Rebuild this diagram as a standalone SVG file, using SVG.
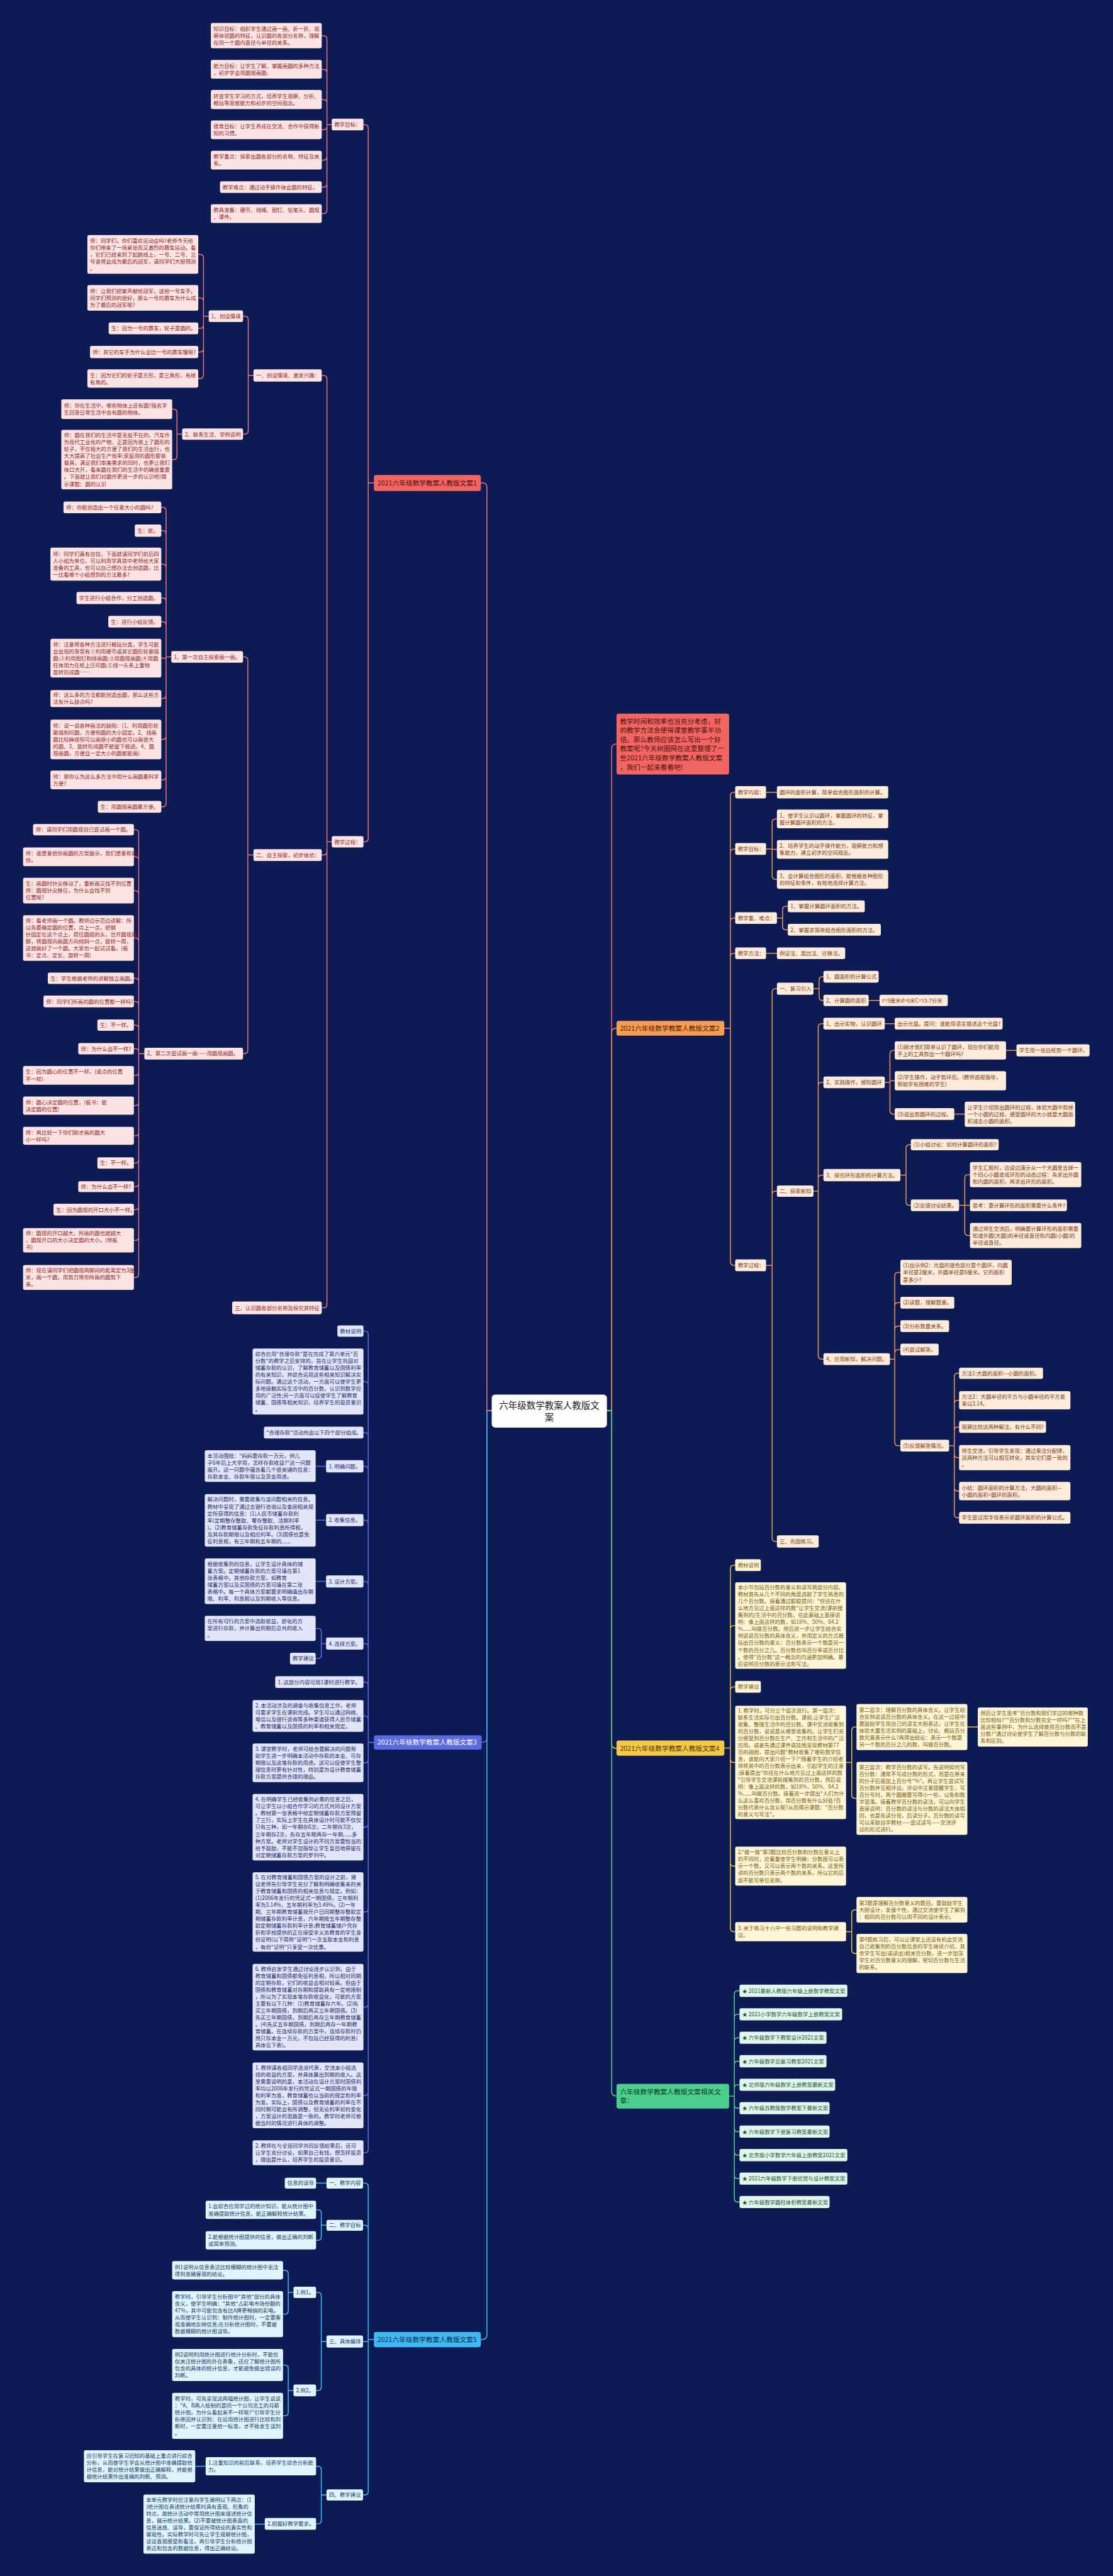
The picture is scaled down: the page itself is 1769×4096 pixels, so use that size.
<svg xmlns="http://www.w3.org/2000/svg" width="1769" height="4096" viewBox="0 0 1769 4096">
<style>
text{font-family:"Noto Sans CJK SC","Noto Sans",sans-serif;font-size:12.2px}
.r rect{fill:#fde4e4}.r text{fill:#8c1f24}
.o rect{fill:#fdebdc}.o text{fill:#7a3a12}
.b rect{fill:#e2e6f8}.b text{fill:#1c2a6c}
.y rect{fill:#fdf5d6}.y text{fill:#7a5a0c}
.c rect{fill:#dff4fc}.c text{fill:#123a66}
.g rect{fill:#e2f6ec}.g text{fill:#145538}
.cn path{fill:none;stroke-width:2.2;stroke-linecap:round}
.main text{font-size:15.5px}
</style>
<rect width="1769" height="4096" fill="#0d1b55"/>
<g transform="scale(0.6910156)">
<g class="cn" id="connectors">
<path stroke="#f26561" d="M1396 3246H1407V1722Q1407 1712 1417 1712H1418"/>
<path stroke="#f0924e" d="M1396 3246H1407V2376Q1407 2366 1417 2366H1418"/>
<path stroke="#e8bf3a" d="M1396 3246H1407V4013Q1407 4023 1417 4023H1418"/>
<path stroke="#4ccf8e" d="M1396 3246H1407V4813Q1407 4823 1417 4823H1418"/>
<path stroke="#5b6ce0" d="M1131 3246H1120V3999Q1120 4009 1110 4009H1108"/>
<path stroke="#42b6ee" d="M1131 3246H1120V5373Q1120 5383 1110 5383H1106"/>
<path stroke="#e8737a" d="M1131 3246H1120V1121Q1120 1111 1110 1111H1106"/>
<path stroke="#e8737a" d="M860 1111H847 M847 1111V295Q847 287 839 287H836 M847 1111V1929Q847 1937 839 1937H836
M763 287H752 M752 287V90Q752 82 744 82H740 M752 287V167.5Q752 159.5 744 159.5H740 M752 287V237Q752 229 744 229H740 M752 287V290.5Q752 298.5 744 298.5H740 M752 287V360.5Q752 368.5 744 368.5H740 M752 287V422.5Q752 430.5 744 430.5H740 M752 287V483.5Q752 491.5 744 491.5H740
M763 1937H752 M752 1937V872Q752 864 744 864H739 M752 1937V1959.5Q752 1967.5 744 1967.5H740 M752 1937V3001.5Q752 3009.5 744 3009.5H740
M583 864H571 M571 864V735.5Q571 727.5 563 727.5H559 M571 864V991Q571 999 563 999H559
M480 727.5H468 M468 727.5V593.5Q468 585.5 460 585.5H456 M468 727.5V693.5Q468 685.5 460 685.5H456 M468 727.5V747.5Q468 755.5 460 755.5H456 M468 727.5V802Q468 810 460 810H456 M468 727.5V863Q468 871 460 871H456
M419 999H407 M407 999V949.5Q407 941.5 399 941.5H396 M407 999V1049.5Q407 1057.5 399 1057.5H396
M583 1967.5H570 M570 1967.5V1519.5Q570 1511.5 562 1511.5H559 M570 1967.5V2416.5Q570 2424.5 562 2424.5H559
M394 1511.5H382 M382 1511.5V1175.5Q382 1167.5 374 1167.5H371 M382 1511.5V1229Q382 1221 374 1221H371 M382 1511.5V1306Q382 1298 374 1298H371 M382 1511.5V1384Q382 1376 374 1376H371 M382 1511.5V1438.5Q382 1430.5 374 1430.5H371 M382 1514.5H371 M382 1511.5V1599.5Q382 1607.5 374 1607.5H371 M382 1511.5V1693.5Q382 1701.5 374 1701.5H371 M382 1511.5V1786.5Q382 1794.5 374 1794.5H371 M382 1511.5V1848.5Q382 1856.5 374 1856.5H371
M332 2424.5H319 M319 2424.5V1917Q319 1909 311 1909H308 M319 2424.5V1979.5Q319 1971.5 311 1971.5H308 M319 2424.5V2057.5Q319 2049.5 311 2049.5H308 M319 2424.5V2166.5Q319 2158.5 311 2158.5H308 M319 2424.5V2259Q319 2251 311 2251H308 M319 2424.5V2312.5Q319 2304.5 311 2304.5H308 M319 2424.5V2367Q319 2359 311 2359H308 M319 2424.5V2421Q319 2413 311 2413H308 M319 2424.5V2466.5Q319 2474.5 311 2474.5H308 M319 2424.5V2536Q319 2544 311 2544H308 M319 2424.5V2605.5Q319 2613.5 311 2613.5H308 M319 2424.5V2668Q319 2676 311 2676H308 M319 2424.5V2722.5Q319 2730.5 311 2730.5H308 M319 2424.5V2775.5Q319 2783.5 311 2783.5H308 M319 2424.5V2846Q319 2854 311 2854H308 M319 2424.5V2931.5Q319 2939.5 311 2939.5H308"/>
<path stroke="#5b6ce0" d="M860 4009.5H847 M847 4009.5V3071Q847 3063 839 3063H836 M847 4009.5V3187Q847 3179 839 3179H836 M847 4009.5V3304.5Q847 3296.5 839 3296.5H836 M847 4009.5V3382Q847 3374 839 3374H836 M847 4009.5V3506Q847 3498 839 3498H836 M847 4009.5V3647Q847 3639 839 3639H836 M847 4009.5V3790Q847 3782 839 3782H836 M847 4009.5V3878.5Q847 3870.5 839 3870.5H836 M847 4009.5V3956.5Q847 3948.5 839 3948.5H836 M847 4009.5V4048.5Q847 4056.5 839 4056.5H836 M847 4009.5V4196.5Q847 4204.5 839 4204.5H836 M847 4009.5V4391.5Q847 4399.5 839 4399.5H836 M847 4009.5V4610.5Q847 4618.5 839 4618.5H836 M847 4009.5V4813.5Q847 4821.5 839 4821.5H836 M847 4009.5V4945.5Q847 4953.5 839 4953.5H836
M750 3374H726 M750 3498H726 M750 3639H726 M750 3782H739 M739 3782V3755Q739 3747 731 3747H726 M739 3782V3808.5Q739 3816.5 731 3816.5H726"/>
<path stroke="#42b6ee" d="M860 5383.5H847 M847 5383.5V5031.5Q847 5023.5 839 5023.5H835 M847 5383.5V5128.5Q847 5120.5 839 5120.5H835 M847 5388H835 M847 5383.5V5733Q847 5741 839 5741H835
M751 5023.5H727
M751 5120.5H739 M739 5120.5V5093Q739 5085 731 5085H727 M739 5120.5V5147Q739 5155 731 5155H727
M751 5388H739 M739 5388V5283Q739 5275 731 5275H727 M739 5388V5492.5Q739 5500.5 731 5500.5H727
M675 5275H663 M663 5275V5232Q663 5224 655 5224H651 M663 5275V5317Q663 5325 655 5325H651
M675 5500.5H663 M663 5500.5V5450Q663 5442 655 5442H651 M663 5500.5V5551Q663 5559 655 5559H651
M751 5741H739 M739 5741V5683Q739 5675 731 5675H727 M739 5741V5799.5Q739 5807.5 731 5807.5H727
M473 5675H449 M609 5808H586"/>
<path stroke="#f0924e" d="M1666 2366H1680 M1680 2366V1831Q1680 1823 1688 1823H1691 M1680 2366V1961.5Q1680 1953.5 1688 1953.5H1691 M1680 2366V2120.5Q1680 2112.5 1688 2112.5H1691 M1680 2366V2201.5Q1680 2193.5 1688 2193.5H1691 M1680 2366V2903.5Q1680 2911.5 1688 2911.5H1691
M1762 1823H1787
M1762 1953.5H1776 M1776 1953.5V1892.5Q1776 1884.5 1784 1884.5H1787 M1776 1954.5H1787 M1776 1953.5V2015.5Q1776 2023.5 1784 2023.5H1787
M1787 2112.5H1800 M1800 2112.5V2093.5Q1800 2085.5 1808 2085.5H1812 M1800 2112.5V2131.5Q1800 2139.5 1808 2139.5H1812
M1762 2193.5H1787
M1762 2911.5H1776 M1776 2911.5V2283Q1776 2275 1784 2275H1787 M1776 2911.5V2749Q1776 2741 1784 2741H1787 M1776 2911.5V3539Q1776 3547 1784 3547H1787
M1871 2275H1884 M1884 2275V2255.5Q1884 2247.5 1892 2247.5H1894 M1884 2275V2294Q1884 2302 1892 2302H1894
M1998 2302H2023
M1871 2741H1882 M1882 2741V2363.5Q1882 2355.5 1890 2355.5H1894 M1882 2741V2498.5Q1882 2490.5 1890 2490.5H1894 M1882 2741V2712Q1882 2704 1890 2704H1894 M1882 2741V3119.5Q1882 3127.5 1890 3127.5H1894
M2035 2355.5H2058
M2035 2490.5H2047 M2047 2490.5V2425Q2047 2417 2055 2417H2058 M2047 2487H2058 M2047 2490.5V2555.5Q2047 2563.5 2055 2563.5H2058
M2314 2417H2338 M2195 2563.5H2219
M2071 2704H2084 M2084 2704V2642Q2084 2634 2092 2634H2095 M2084 2704V2765.5Q2084 2773.5 2092 2773.5H2095
M2206 2773.5H2231 M2219 2773.5V2711Q2219 2703 2227 2703H2231 M2219 2773.5V2835Q2219 2843 2227 2843H2231
M2047 3127.5H2058 M2058 3127.5V2936Q2058 2928 2066 2928H2071 M2058 3127.5V3005.5Q2058 2997.5 2066 2997.5H2071 M2058 3127.5V3059.5Q2058 3051.5 2066 3051.5H2071 M2058 3127.5V3113.5Q2058 3105.5 2066 3105.5H2071 M2058 3127.5V3318.5Q2058 3326.5 2066 3326.5H2071
M2183 3326.5H2195 M2195 3326.5V3168Q2195 3160 2203 3160H2206 M2195 3326.5V3230Q2195 3222 2203 3222H2206 M2195 3326.5V3291.5Q2195 3283.5 2203 3283.5H2206 M2195 3326.5V3346Q2195 3354 2203 3354H2206 M2195 3326.5V3423Q2195 3431 2203 3431H2206 M2195 3326.5V3484.5Q2195 3492.5 2203 3492.5H2206"/>
<path stroke="#e8bf3a" d="M1666 4022.5H1680 M1680 4022.5V3609.5Q1680 3601.5 1688 3601.5H1691 M1680 4022.5V3748.5Q1680 3740.5 1688 3740.5H1691 M1680 4022.5V3889.5Q1680 3881.5 1688 3881.5H1691 M1680 4022.5V4047.5Q1680 4055.5 1688 4055.5H1691 M1680 4022.5V4286Q1680 4294 1688 4294H1691 M1680 4022.5V4437Q1680 4445 1688 4445H1691
M1946 4055.5H1959 M1959 4055.5V3982Q1959 3974 1967 3974H1970 M1959 4055.5V4130Q1959 4138 1967 4138H1970
M2225 3974H2249
M1946 4445H1959 M1959 4445V4402.5Q1959 4394.5 1967 4394.5H1970 M1959 4445V4487Q1959 4495 1967 4495H1970"/>
<path stroke="#4ccf8e" d="M1677 4823.5H1689 M1689 4823.5V4589Q1689 4581 1697 4581H1701 M1689 4823.5V4643Q1689 4635 1697 4635H1701 M1689 4823.5V4697Q1689 4689 1697 4689H1701 M1689 4823.5V4751Q1689 4743 1697 4743H1701 M1689 4823.5V4805Q1689 4797 1697 4797H1701 M1689 4823.5V4843Q1689 4851 1697 4851H1701 M1689 4823.5V4897Q1689 4905 1697 4905H1701 M1689 4823.5V4951Q1689 4959 1697 4959H1701 M1689 4823.5V5005Q1689 5013 1697 5013H1701 M1689 4823.5V5059Q1689 5067 1697 5067H1701"/>
</g>

<g id="root"><rect x="1131" y="3209" width="265" height="76" rx="8" fill="#ffffff"/><text x="1263.5" y="3242" text-anchor="middle" style="font-size:21px;fill:#222">六年级数学教案人教版文<tspan x="1263.5" dy="27">案</tspan></text></g>

<g id="intro" class="main"><rect x="1418" y="1642" width="259" height="140" rx="5" fill="#f26561"/><text x="1426" y="1665" style="fill:#4a1212">教学时间和效率也当充分考虑，好<tspan x="1426" dy="21.2">的教学方法会使得课堂教学事半功</tspan><tspan x="1426" dy="21.2">倍。那么教师应该怎么写出一个好</tspan><tspan x="1426" dy="21.2">教案呢?今天树图网在这里整理了一</tspan><tspan x="1426" dy="21.2">些2021六年级数学教案人教版文案</tspan><tspan x="1426" dy="21.2">，我们一起来看看吧!</tspan></text></g>
<g id="b1" class="main"><rect x="860" y="1093" width="246" height="37" rx="5" fill="#f26561"/><text x="868" y="1117" style="fill:#4a1212">2021六年级数学教案人教版文案1</text></g>
<g id="b2" class="main"><rect x="1418" y="2349" width="248" height="34" rx="5" fill="#f89c50"/><text x="1426" y="2372" style="fill:#4a2306">2021六年级数学教案人教版文案2</text></g>
<g id="b3" class="main"><rect x="860" y="3993" width="248" height="33" rx="5" fill="#5a6bdf"/><text x="868" y="4015" style="fill:#ffffff">2021六年级数学教案人教版文案3</text></g>
<g id="b4" class="main"><rect x="1418" y="4005" width="248" height="35" rx="5" fill="#f7c845"/><text x="1426" y="4028.5" style="fill:#4a3a06">2021六年级数学教案人教版文案4</text></g>
<g id="b5" class="main"><rect x="860" y="5366" width="246" height="35" rx="5" fill="#40b9f2"/><text x="868" y="5389" style="fill:#0a2a4a">2021六年级数学教案人教版文案5</text></g>
<g id="b6" class="main"><rect x="1418" y="4795" width="259" height="57" rx="5" fill="#4ccf8e"/><text x="1426" y="4819.5" style="fill:#0a3a22">六年级数学教案人教版文案相关文<tspan x="1426" dy="20">章：</tspan></text></g>

<!-- branch 1 -->
<g class="r">
<g id="r-mb"><rect x="763" y="273" width="73" height="27" rx="4"/><text x="769" y="291">教学目标：</text></g>
<g id="r-t1"><rect x="485" y="53" width="255" height="58" rx="4"/><text x="491" y="70.6">知识目标：组织学生通过画一画、折一折、观<tspan x="491" dy="16">察体验圆的特征，认识圆的各部分名称，理解</tspan><tspan x="491" dy="16">在同一个圆内直径与半径的关系。</tspan></text></g>
<g id="r-t2"><rect x="485" y="138" width="255" height="43" rx="4"/><text x="491" y="156">能力目标：让学生了解、掌握画圆的多种方法<tspan x="491" dy="16">，初步学会用圆规画圆;</tspan></text></g>
<g id="r-t3"><rect x="485" y="207" width="255" height="44" rx="4"/><text x="491" y="225.6">转变学生学习的方式，培养学生观察、分析、<tspan x="491" dy="16">概括等思维能力和初步的空间观念。</tspan></text></g>
<g id="r-t4"><rect x="485" y="277" width="255" height="43" rx="4"/><text x="491" y="295">德育目标：让学生养成在交流、合作中获得新<tspan x="491" dy="16">知的习惯。</tspan></text></g>
<g id="r-t5"><rect x="485" y="347" width="255" height="43" rx="4"/><text x="491" y="365">教学重点：探索出圆各部分的名称、特征及关<tspan x="491" dy="16">系。</tspan></text></g>
<g id="r-t6"><rect x="506" y="417" width="234" height="27" rx="4"/><text x="512" y="435">教学难点：通过动手操作体会圆的特征。</text></g>
<g id="r-t7"><rect x="485" y="470" width="255" height="43" rx="4"/><text x="491" y="488">教具准备：硬币、线绳、图钉、铅笔头、圆规<tspan x="491" dy="16">、课件。</tspan></text></g>
<g id="r-gc"><rect x="763" y="1924" width="73" height="26" rx="4"/><text x="769" y="1941.6">教学过程：</text></g>
<g id="r-s1"><rect x="583" y="850" width="157" height="28" rx="4"/><text x="589" y="868.6">一、创设情境、激发兴趣：</text></g>
<g id="r-s11"><rect x="480" y="714" width="79" height="27" rx="4"/><text x="486" y="732">1、创设情境</text></g>
<g id="r-a1"><rect x="201" y="541" width="255" height="89" rx="4"/><text x="207" y="558">师：同学们，你们喜欢运动会吗?老师今天给<tspan x="207" dy="16">你们带来了一场紧张而又激烈的赛车运动。看</tspan><tspan x="207" dy="16">，它们已经来到了起跑线上，一号、二号、三</tspan><tspan x="207" dy="16">号谁将会成为最后的冠军，请同学们大胆预测</tspan><tspan x="207" dy="16">。</tspan></text></g>
<g id="r-a2"><rect x="201" y="656" width="255" height="59" rx="4"/><text x="207" y="674">师：让我们把掌声献给冠军，送给一号车手。<tspan x="207" dy="16">同学们预测的很好，那么一号的赛车为什么成</tspan><tspan x="207" dy="16">为了最后的冠军呢?</tspan></text></g>
<g id="r-a3"><rect x="250" y="742" width="206" height="27" rx="4"/><text x="256" y="760">生：因为一号的赛车，轮子是圆的。</text></g>
<g id="r-a4"><rect x="207" y="796" width="249" height="28" rx="4"/><text x="213" y="814.6">师：其它的车手为什么会比一号的赛车慢呢?</text></g>
<g id="r-a5"><rect x="201" y="850" width="255" height="42" rx="4"/><text x="207" y="867.6">生：因为它们的轮子是方形，是三角形，有棱<tspan x="207" dy="16">有角的。</tspan></text></g>
<g id="r-s12"><rect x="419" y="986" width="140" height="26" rx="4"/><text x="425" y="1003.6">2、联系生活、举例说明</text></g>
<g id="r-f1"><rect x="141" y="919" width="255" height="45" rx="4"/><text x="147" y="938">师：你在生活中，哪些物体上还有圆?指名学<tspan x="147" dy="16">生回答日常生活中含有圆的物体。</tspan></text></g>
<g id="r-f2"><rect x="141" y="989" width="255" height="137" rx="4"/><text x="147" y="1006">师：圆在我们的生活中是无处不在的，汽车作<tspan x="147" dy="16">为现代工业化的产物，正是因为装上了圆形的</tspan><tspan x="147" dy="16">轮子，不仅极大的方便了我们的生活出行，也</tspan><tspan x="147" dy="16">大大提高了社会生产效率;家庭用的圆形套装</tspan><tspan x="147" dy="16">餐具，满足我们审美需求的同时，也更让我们</tspan><tspan x="147" dy="16">味口大开，看来圆在我们的生活中的确很重要</tspan><tspan x="147" dy="16">。下面就让我们对圆作更进一步的认识吧!揭</tspan><tspan x="147" dy="16">示课题：圆的认识</tspan></text></g>
<g id="r-s2"><rect x="583" y="1954" width="157" height="27" rx="4"/><text x="589" y="1972">二、自主探索，初步体验：</text></g>
<g id="r-s21"><rect x="394" y="1498" width="165" height="27" rx="4"/><text x="400" y="1516">1、第一次自主探索画一画。</text></g>
<g id="r-h1"><rect x="146" y="1154" width="225" height="27" rx="4"/><text x="152" y="1172">师：你能创造出一个任意大小的圆吗?</text></g>
<g id="r-h2"><rect x="310" y="1207" width="61" height="28" rx="4"/><text x="316" y="1225.6">生：能。</text></g>
<g id="r-h3"><rect x="116" y="1260" width="255" height="76" rx="4"/><text x="122" y="1278.6">师：同学们真有自信，下面就请同学们前后四<tspan x="122" dy="16">人小组为单位，可以利用学具袋中老师给大家</tspan><tspan x="122" dy="16">准备的工具，也可以自己想办法去创造圆，比</tspan><tspan x="122" dy="16">一比看哪个小组想到的方法最多?</tspan></text></g>
<g id="r-h4"><rect x="176" y="1362" width="195" height="28" rx="4"/><text x="182" y="1380.6">学生进行小组合作，分工创造圆。</text></g>
<g id="r-h5"><rect x="249" y="1417" width="122" height="27" rx="4"/><text x="255" y="1435">生：进行小组反馈。</text></g>
<g id="r-h6"><rect x="116" y="1470" width="255" height="89" rx="4"/><text x="122" y="1487">师：注意将各种方法进行概括分类，学生可能<tspan x="122" dy="16">会出现的答案有①利用硬币或其它圆形轮廓描</tspan><tspan x="122" dy="16">圆;②利用图钉和线画圆;③用圆规画圆;④用圆</tspan><tspan x="122" dy="16">柱体用力在纸上压印圆;⑤线一头系上重物</tspan><tspan x="122" dy="16">旋转形成圆……</tspan></text></g>
<g id="r-h7"><rect x="116" y="1588" width="255" height="39" rx="4"/><text x="122" y="1604">师：这么多的方法都能创造出圆，那么这些方<tspan x="122" dy="16">法有什么缺点吗?</tspan></text></g>
<g id="r-h8"><rect x="116" y="1656" width="255" height="91" rx="4"/><text x="122" y="1674">师：说一说各种画法的缺陷：(1、利用圆形轮<tspan x="122" dy="16">廓描和印圆，方便但圆的大小固定。2、线画</tspan><tspan x="122" dy="16">圆比较麻烦但可以画很小的圆也可以画很大</tspan><tspan x="122" dy="16">的圆、3、旋转形成圆不能留下痕迹。4、圆</tspan><tspan x="122" dy="16">规画圆，方便且一定大小的圆都能画)</tspan></text></g>
<g id="r-h9"><rect x="116" y="1773" width="255" height="43" rx="4"/><text x="122" y="1791">师：那你认为这么多方法中用什么画圆最科学<tspan x="122" dy="16">方便?</tspan></text></g>
<g id="r-h10"><rect x="225" y="1843" width="146" height="27" rx="4"/><text x="231" y="1861">生：用圆规画圆最方便。</text></g>
<g id="r-s22"><rect x="332" y="2411" width="227" height="27" rx="4"/><text x="338" y="2429">2、第二次尝试画一画-----用圆规画圆。</text></g>
<g id="r-k1"><rect x="76" y="1896" width="232" height="26" rx="4"/><text x="82" y="1913.6">师：请同学们用圆规自已尝试画一个圆。</text></g>
<g id="r-k2"><rect x="53" y="1950" width="255" height="43" rx="4"/><text x="59" y="1968">师：谁愿意把你画圆的方案展示，我们愿意帮助<tspan x="59" dy="16">你。</tspan></text></g>
<g id="r-k3"><rect x="53" y="2020" width="255" height="59" rx="4"/><text x="59" y="2038">生：画圆时针尖移动了，重新画又找不到位置<tspan x="59" dy="16">师：圆规针尖移位，为什么会找不到</tspan><tspan x="59" dy="16">位置呢?</tspan></text></g>
<g id="r-k4"><rect x="53" y="2106" width="255" height="105" rx="4"/><text x="59" y="2123">师：看老师画一个圆。教师边示范边讲解：所<tspan x="59" dy="16">以先要确定圆的位置，点上一点，把钢</tspan><tspan x="59" dy="16">针固定在这个点上，捏住圆规的头，岔开圆规两</tspan><tspan x="59" dy="16">脚，将圆规向画圆方向倾斜一点，旋转一周，</tspan><tspan x="59" dy="16">这就画好了一个圆。大家也一起试试看。(板</tspan><tspan x="59" dy="16">书：定点、定长、旋转一周)</tspan></text></g>
<g id="r-k5"><rect x="110" y="2238" width="198" height="26" rx="4"/><text x="116" y="2255.6">生：学生根据老师的讲解独立画圆。</text></g>
<g id="r-k6"><rect x="100" y="2291" width="208" height="27" rx="4"/><text x="106" y="2309">师：同学们所画的圆的位置都一样吗?</text></g>
<g id="r-k7"><rect x="224" y="2346" width="84" height="26" rx="4"/><text x="230" y="2363.6">生：不一样。</text></g>
<g id="r-k8"><rect x="180" y="2400" width="128" height="26" rx="4"/><text x="186" y="2417.6">师：为什么会不一样?</text></g>
<g id="r-k9"><rect x="53" y="2453" width="255" height="43" rx="4"/><text x="59" y="2471">生：因为圆心的位置不一样，(或点的位置<tspan x="59" dy="16">不一样)</tspan></text></g>
<g id="r-k10"><rect x="53" y="2523" width="255" height="42" rx="4"/><text x="59" y="2540.6">师：圆心决定圆的位置，(板书：能<tspan x="59" dy="16">决定圆的位置)</tspan></text></g>
<g id="r-k11"><rect x="53" y="2593" width="255" height="41" rx="4"/><text x="59" y="2610">师：再比较一下你们刚才画的圆大<tspan x="59" dy="16">小一样吗?</tspan></text></g>
<g id="r-k12"><rect x="224" y="2663" width="84" height="26" rx="4"/><text x="230" y="2680.6">生：不一样。</text></g>
<g id="r-k13"><rect x="180" y="2718" width="128" height="25" rx="4"/><text x="186" y="2735">师：为什么会不一样?</text></g>
<g id="r-k14"><rect x="123" y="2770" width="185" height="27" rx="4"/><text x="129" y="2788">生：因为圆规的开口大小不一样。</text></g>
<g id="r-k15"><rect x="53" y="2826" width="255" height="56" rx="4"/><text x="59" y="2842.6">师：圆规的开口越大，所画的圆也就越大<tspan x="59" dy="16">，圆规开口的大小决定圆的大小。(师板</tspan><tspan x="59" dy="16">书)</tspan></text></g>
<g id="r-k16"><rect x="53" y="2911" width="255" height="57" rx="4"/><text x="59" y="2928">师：现在请同学们把圆规两脚间的距离定为3厘<tspan x="59" dy="16">米，画一个圆，用剪刀将你所画的圆剪下</tspan><tspan x="59" dy="16">来。</tspan></text></g>
<g id="r-s3"><rect x="534" y="2995" width="206" height="29" rx="4"/><text x="540" y="3014">三、认识圆各部分名称及探究其特征</text></g>
</g>

<!-- branch 3 -->
<g class="b">
<g id="b-1"><rect x="776" y="3050" width="60" height="26" rx="4"/><text x="782" y="3067.6">教材说明</text></g>
<g id="b-2"><rect x="581" y="3103" width="255" height="152" rx="4"/><text x="587" y="3119.6">综合应用"合理存款"是在完成了第六单元"百<tspan x="587" dy="16">分数"的教学之后安排的，旨在让学生巩固对</tspan><tspan x="587" dy="16">储蓄存款的认识，了解教育储蓄以及国债利率</tspan><tspan x="587" dy="16">的有关知识，并综合运用这些相关知识解决实</tspan><tspan x="587" dy="16">际问题。通过这个活动，一方面可以使学生更</tspan><tspan x="587" dy="16">多地接触实际生活中的百分数，认识到数学应</tspan><tspan x="587" dy="16">用的广泛性;另一方面可以促使学生了解教育</tspan><tspan x="587" dy="16">储蓄、国债等相关知识，培养学生的投资意识</tspan><tspan x="587" dy="16">。</tspan></text></g>
<g id="b-3"><rect x="607" y="3283" width="229" height="27" rx="4"/><text x="613" y="3301">"合理存款"活动共由以下四个部分组成。</text></g>
<g id="b-4"><rect x="750" y="3360" width="86" height="28" rx="4"/><text x="756" y="3378.6">1. 明确问题。</text></g>
<g id="b-4a"><rect x="471" y="3337" width="255" height="73" rx="4"/><text x="477" y="3354">本活动围绕："妈妈要存款一万元，供儿<tspan x="477" dy="16">子6年后上大学用，怎样存款收益?"这一问题</tspan><tspan x="477" dy="16">展开。这一问题中蕴含着几个很关键的信息：</tspan><tspan x="477" dy="16">存款本金、存款年限以及资金用途。</tspan></text></g>
<g id="b-5"><rect x="750" y="3484" width="86" height="28" rx="4"/><text x="756" y="3502.6">2. 收集信息。</text></g>
<g id="b-5a"><rect x="471" y="3438" width="255" height="121" rx="4"/><text x="477" y="3455">解决问题时，需要收集与该问题相关的信息。<tspan x="477" dy="16">教材中呈现了通过去银行咨询以及查阅相关规</tspan><tspan x="477" dy="16">定所获得的信息：(1)人民币储蓄存款利</tspan><tspan x="477" dy="16">率(定期整存整取、零存整取、活期利率</tspan><tspan x="477" dy="16">)。(2)教育储蓄存款免征存款利息所得税，</tspan><tspan x="477" dy="16">及其存款期限以及相应利率。(3)国债也是免</tspan><tspan x="477" dy="16">征利息税，有三年期和五年期的......</tspan></text></g>
<g id="b-6"><rect x="750" y="3625" width="86" height="28" rx="4"/><text x="756" y="3643.6">3. 设计方案。</text></g>
<g id="b-6a"><rect x="471" y="3586" width="255" height="105" rx="4"/><text x="477" y="3603">根据收集到的信息，让学生设计具体的储<tspan x="477" dy="16">蓄方案。定期储蓄存款的方案可填在第1</tspan><tspan x="477" dy="16">张表格中。其他存款方案，如教育</tspan><tspan x="477" dy="16">储蓄方案以及买国债的方案可填在第二张</tspan><tspan x="477" dy="16">表格中。每一个具体方案都要求明确填出存期</tspan><tspan x="477" dy="16">限、利率、利息税以及到期收入等信息。</tspan></text></g>
<g id="b-7"><rect x="750" y="3768" width="86" height="28" rx="4"/><text x="756" y="3786.6">4. 选择方案。</text></g>
<g id="b-7a"><rect x="471" y="3718" width="255" height="58" rx="4"/><text x="477" y="3735.6">在所有可行的方案中选取收益，即化的方<tspan x="477" dy="16">案进行存款，并计算出到期后总共的收入</tspan><tspan x="477" dy="16">。</tspan></text></g>
<g id="b-7b"><rect x="667" y="3803" width="59" height="27" rx="4"/><text x="673" y="3821">教学建议</text></g>
<g id="b-8"><rect x="633" y="3857" width="203" height="27" rx="4"/><text x="639" y="3875">1. 这部分内容可用1课时进行教学。</text></g>
<g id="b-9"><rect x="581" y="3912" width="255" height="73" rx="4"/><text x="587" y="3929">2. 本活动涉及的调查与收集信息工作，老师<tspan x="587" dy="16">可要求学生在课前完成。学生可以通过网络、</tspan><tspan x="587" dy="16">电话以及银行咨询等多种渠道获得人民币储蓄</tspan><tspan x="587" dy="16">、教育储蓄以及国债的利率和相关规定。</tspan></text></g>
<g id="b-10"><rect x="581" y="4012" width="255" height="89" rx="4"/><text x="587" y="4029">3. 课堂教学时，老师可结合要解决的问题帮<tspan x="587" dy="16">助学生进一步明确本活动中存款的本金、可存</tspan><tspan x="587" dy="16">期限以及这笔存款的用途。这可以促使学生整</tspan><tspan x="587" dy="16">理信息时更有针对性，特别是为设计教育储蓄</tspan><tspan x="587" dy="16">存款方案提供合理的理由。</tspan></text></g>
<g id="b-11"><rect x="581" y="4128" width="255" height="153" rx="4"/><text x="587" y="4145">4. 在明确学生已经收集到必需的信息之后，<tspan x="587" dy="16">可让学生以小组合作学习的方式共同设计方案</tspan><tspan x="587" dy="16">。教材第一张表格中给定期储蓄存款方案预留</tspan><tspan x="587" dy="16">了三行，实际上学生在具体设计时可能不仅仅</tspan><tspan x="587" dy="16">只有三种，如一年期存6次，二年期存3次，</tspan><tspan x="587" dy="16">三年期存2次，先存五年期再存一年期......多</tspan><tspan x="587" dy="16">种方案。老师对学生设计的不同方案要恰当的</tspan><tspan x="587" dy="16">给予鼓励，不能不加指导让学生盲目地停留在</tspan><tspan x="587" dy="16">对定期储蓄存款方案的罗列中。</tspan></text></g>
<g id="b-12"><rect x="581" y="4308" width="255" height="183" rx="4"/><text x="587" y="4324">5. 在对教育储蓄和国债方案的设计之前，建<tspan x="587" dy="16">议老师先引导学生充分了解和明确收集来的关</tspan><tspan x="587" dy="16">于教育储蓄和国债的相关信息与规定。例如：</tspan><tspan x="587" dy="16">(1)2006年发行的凭证式一期国债，三年期利</tspan><tspan x="587" dy="16">率为3.14%，五年期利率为3.49%。(2)一年</tspan><tspan x="587" dy="16">期、三年期教育储蓄按开户日同期整存整取定</tspan><tspan x="587" dy="16">期储蓄存款利率计息，六年期按五年期整存整</tspan><tspan x="587" dy="16">取定期储蓄存款利率计息;教育储蓄储户凭存</tspan><tspan x="587" dy="16">折和学校提供的正在接受非义务教育的学生身</tspan><tspan x="587" dy="16">份证明(以下简称"证明")一次支取本金和利息</tspan><tspan x="587" dy="16">，每份"证明"只享受一次优惠。</tspan></text></g>
<g id="b-13"><rect x="581" y="4519" width="255" height="199" rx="4"/><text x="587" y="4535">6. 教师启发学生通过讨论逐步认识到，由于<tspan x="587" dy="16">教育储蓄和国债都免征利息税，所以相对同期</tspan><tspan x="587" dy="16">的定期存款，它们的收益会相对较高。但由于</tspan><tspan x="587" dy="16">国债和教育储蓄对存期和提取具有一定地限制</tspan><tspan x="587" dy="16">，所以为了实现本笔存款收益化，可能的方案</tspan><tspan x="587" dy="16">主要有以下几种：(1)教育储蓄存六年。(2)先</tspan><tspan x="587" dy="16">买三年期国债，到期后再买三年期国债。(3)</tspan><tspan x="587" dy="16">先买三年期国债，到期后再存三年期教育储蓄</tspan><tspan x="587" dy="16">。(4)先买五年期国债，到期后再存一年期教</tspan><tspan x="587" dy="16">育储蓄。在连续存款的方案中，连续存款时仍</tspan><tspan x="587" dy="16">然只存本金一万元，不包括已经获得的利息(</tspan><tspan x="587" dy="16">具体见下表)。</tspan></text></g>
<g id="b-14"><rect x="581" y="4746" width="255" height="151" rx="4"/><text x="587" y="4762">1. 教师请各组同学选派代表，交流本小组选<tspan x="587" dy="16">择的收益的方案，并具体算出到期的收入。这</tspan><tspan x="587" dy="16">里需要说明的是，本活动在设计方案时国债利</tspan><tspan x="587" dy="16">率均以2006年发行的凭证式一期国债的年限</tspan><tspan x="587" dy="16">和利率为准，教育储蓄也以当前的规定和利率</tspan><tspan x="587" dy="16">为准。实际上，国债以及教育储蓄的利率在不</tspan><tspan x="587" dy="16">同时期可能会有所调整，但无论利率如何变化</tspan><tspan x="587" dy="16">，方案设计的思路是一致的。教学时老师可根</tspan><tspan x="587" dy="16">据当时的情况进行具体的调整。</tspan></text></g>
<g id="b-15"><rect x="581" y="4925" width="255" height="57" rx="4"/><text x="587" y="4942">2. 教师在与全班同学共同反馈结果后，还可<tspan x="587" dy="16">让学生充分讨论，如果自己有钱，想怎样投资</tspan><tspan x="587" dy="16">，理由是什么，培养学生的投资意识。</tspan></text></g>
</g>

<!-- branch 5 -->
<g class="c">
<g id="c-1"><rect x="751" y="5011" width="84" height="25" rx="4"/><text x="757" y="5028">一、教学内容</text></g>
<g id="c-1a"><rect x="655" y="5011" width="72" height="25" rx="4"/><text x="661" y="5028">信息的误导</text></g>
<g id="c-2"><rect x="751" y="5108" width="84" height="25" rx="4"/><text x="757" y="5125">二、教学目标</text></g>
<g id="c-2a"><rect x="473" y="5064" width="254" height="42" rx="4"/><text x="479" y="5081.6">1.会综合应用学过的统计知识，能从统计图中<tspan x="479" dy="16">准确提取统计信息，能正确解释统计结果。</tspan></text></g>
<g id="c-2b"><rect x="473" y="5134" width="254" height="42" rx="4"/><text x="479" y="5151.6">2.能根据统计图提供的信息，做出正确的判断<tspan x="479" dy="16">或简单预测。</tspan></text></g>
<g id="c-3"><rect x="751" y="5374" width="84" height="28" rx="4"/><text x="757" y="5392.6">三、具体编排</text></g>
<g id="c-31"><rect x="675" y="5262" width="52" height="26" rx="4"/><text x="681" y="5279.6">1.例1。</text></g>
<g id="c-31a"><rect x="396" y="5203" width="255" height="42" rx="4"/><text x="402" y="5220.6">例1说明从信息表达比较模糊的统计图中无法<tspan x="402" dy="16">得到准确客观的结论。</tspan></text></g>
<g id="c-31b"><rect x="396" y="5272" width="255" height="106" rx="4"/><text x="402" y="5289.6">教学时，引导学生分析图中"其他"部分的具体<tspan x="402" dy="16">含义，使学生明确："其他"占彩电市场份额的</tspan><tspan x="402" dy="16">47%，其中可能包含有比A牌更畅销的彩电。</tspan><tspan x="402" dy="16">从而使学生认识到：制作统计图时，一定要客</tspan><tspan x="402" dy="16">观准确地反映信息;在分析统计图时，不要被</tspan><tspan x="402" dy="16">数据模糊的统计图误导。</tspan></text></g>
<g id="c-32"><rect x="675" y="5487" width="52" height="27" rx="4"/><text x="681" y="5505">2.例2。</text></g>
<g id="c-32a"><rect x="396" y="5405" width="255" height="74" rx="4"/><text x="402" y="5422.6">例2说明利用统计图进行统计分析时，不能仅<tspan x="402" dy="16">仅关注统计图的外在表象，还应了解统计图所</tspan><tspan x="402" dy="16">包含的具体的统计信息，才能避免做出错误的</tspan><tspan x="402" dy="16">判断。</tspan></text></g>
<g id="c-32b"><rect x="396" y="5506" width="255" height="106" rx="4"/><text x="402" y="5523.6">教学时，可先呈现这两幅统计图，让学生说说<tspan x="402" dy="16">："A、B两人绘制的是同一个公司员工的月薪</tspan><tspan x="402" dy="16">统计图，为什么看起来不一样呢?"引导学生分</tspan><tspan x="402" dy="16">析原因并认识到：在运用统计图进行比较和判</tspan><tspan x="402" dy="16">断时，一定要注意统一标准，才不致发生误判</tspan><tspan x="402" dy="16">。</tspan></text></g>
<g id="c-4"><rect x="751" y="5728" width="84" height="26" rx="4"/><text x="757" y="5745.6">四、教学建议</text></g>
<g id="c-41"><rect x="473" y="5654" width="254" height="42" rx="4"/><text x="479" y="5671.6">1.注重知识的前后联系，培养学生综合分析能<tspan x="479" dy="16">力。</tspan></text></g>
<g id="c-41a"><rect x="193" y="5638" width="256" height="74" rx="4"/><text x="199" y="5655.6">应引导学生在复习旧知的基础上重点进行综合<tspan x="199" dy="16">分析，从而使学生学会从统计图中准确提取统</tspan><tspan x="199" dy="16">计信息，能对统计结果做出正确解释，并能根</tspan><tspan x="199" dy="16">据统计结果作出准确的判断、预测。</tspan></text></g>
<g id="c-42"><rect x="609" y="5794" width="118" height="27" rx="4"/><text x="615" y="5812">2.把握好教学要求。</text></g>
<g id="c-42a"><rect x="330" y="5740" width="256" height="136" rx="4"/><text x="336" y="5756.6">本单元教学时应注意向学生阐明以下两点：(1<tspan x="336" dy="16">)统计图在表述统计结果时具有直观、形象的</tspan><tspan x="336" dy="16">特点，故统计活动中常用统计图来描述统计信</tspan><tspan x="336" dy="16">息，展示统计结果。(2)不要被统计图表面的</tspan><tspan x="336" dy="16">信息迷惑、误导，要保证所得结论的真实性和</tspan><tspan x="336" dy="16">客观性。实际教学时可先让学生观察统计图，</tspan><tspan x="336" dy="16">谈谈直观感受和看法，再引导学生分析统计图</tspan><tspan x="336" dy="16">表达和包含的数据信息，得出正确结论。</tspan></text></g>
</g>

<!-- branch 2 -->
<g class="o">
<g id="o-1"><rect x="1691" y="1809" width="71" height="28" rx="4"/><text x="1697" y="1827.6">教学内容：</text></g>
<g id="o-1a"><rect x="1787" y="1809" width="256" height="28" rx="4"/><text x="1793" y="1827.6">圆环的面积计算，简单组合图形面积的计算。</text></g>
<g id="o-2"><rect x="1691" y="1940" width="71" height="27" rx="4"/><text x="1697" y="1958">教学目标：</text></g>
<g id="o-2a"><rect x="1787" y="1863" width="256" height="43" rx="4"/><text x="1793" y="1881">1、使学生认识以圆环，掌握圆环的特征，掌<tspan x="1793" dy="16">握计算圆环面积的方法。</tspan></text></g>
<g id="o-2b"><rect x="1787" y="1933" width="256" height="43" rx="4"/><text x="1793" y="1951">2、培养学生的动手操作能力，观察能力和想<tspan x="1793" dy="16">象能力，建立初步的空间观念。</tspan></text></g>
<g id="o-2c"><rect x="1787" y="2002" width="256" height="43" rx="4"/><text x="1793" y="2020">3、会计算组合图形的面积，能根据各种图形<tspan x="1793" dy="16">的特征和条件，有效地选择计算方法。</tspan></text></g>
<g id="o-3"><rect x="1691" y="2099" width="96" height="27" rx="4"/><text x="1697" y="2117">教学重、难点：</text></g>
<g id="o-3a"><rect x="1812" y="2072" width="177" height="27" rx="4"/><text x="1818" y="2090">1、掌握计算圆环面积的方法。</text></g>
<g id="o-3b"><rect x="1812" y="2126" width="214" height="27" rx="4"/><text x="1818" y="2144">2、掌握求简单组合图形面积的方法。</text></g>
<g id="o-4"><rect x="1691" y="2180" width="71" height="27" rx="4"/><text x="1697" y="2198">教学方法：</text></g>
<g id="o-4a"><rect x="1787" y="2180" width="157" height="27" rx="4"/><text x="1793" y="2198">例证法、类比法、迁移法。</text></g>
<g id="o-5"><rect x="1691" y="2898" width="71" height="27" rx="4"/><text x="1697" y="2916">教学过程：</text></g>
<g id="o-51"><rect x="1787" y="2261" width="84" height="28" rx="4"/><text x="1793" y="2279.6">一、复习引入</text></g>
<g id="o-511"><rect x="1894" y="2234" width="127" height="27" rx="4"/><text x="1900" y="2252">1、圆面积的计算公式</text></g>
<g id="o-512"><rect x="1894" y="2289" width="104" height="26" rx="4"/><text x="1900" y="2306.6">2、计算圆的面积</text></g>
<g id="o-512a"><rect x="2023" y="2289" width="157" height="26" rx="4"/><text x="2029" y="2306.6">r=5厘米d=6米C=15.7分米</text></g>
<g id="o-52"><rect x="1787" y="2728" width="84" height="26" rx="4"/><text x="1793" y="2745.6">二、探索新知</text></g>
<g id="o-521"><rect x="1894" y="2342" width="141" height="27" rx="4"/><text x="1900" y="2360">1、出示实物，认识圆环</text></g>
<g id="o-521a"><rect x="2058" y="2342" width="248" height="27" rx="4"/><text x="2064" y="2360">出示光盘。提问：谁能用语言描述这个光盘?</text></g>
<g id="o-522"><rect x="1894" y="2477" width="141" height="27" rx="4"/><text x="1900" y="2495">2、实践操作，感知圆环</text></g>
<g id="o-522a"><rect x="2058" y="2396" width="256" height="42" rx="4"/><text x="2064" y="2413.6">(1)刚才我们简单认识了圆环，现在你们能用<tspan x="2064" dy="16">手上的工具剪出一个圆环吗?</tspan></text></g>
<g id="o-522a1"><rect x="2338" y="2403" width="168" height="28" rx="4"/><text x="2344" y="2421.6">学生用一张白纸剪一个圆环。</text></g>
<g id="o-522b"><rect x="2058" y="2465" width="256" height="44" rx="4"/><text x="2064" y="2483.6">(2)学生操作，动手剪环形。(教师巡视指导，<tspan x="2064" dy="16">帮助学有困难的学生)</tspan></text></g>
<g id="o-522c"><rect x="2058" y="2550" width="137" height="27" rx="4"/><text x="2064" y="2568">(3)说出剪圆环的过程。</text></g>
<g id="o-522c1"><rect x="2219" y="2535" width="254" height="58" rx="4"/><text x="2225" y="2552.6">让学生介绍剪出圆环的过程，体验大圆中剪掉<tspan x="2225" dy="16">一个小圆的过程，感受圆环的大小就是大圆面</tspan><tspan x="2225" dy="16">积减去小圆的面积。</tspan></text></g>
<g id="o-523"><rect x="1894" y="2690" width="177" height="28" rx="4"/><text x="1900" y="2708.6">3、探究环形面积的计算方法。</text></g>
<g id="o-523a"><rect x="2095" y="2621" width="202" height="26" rx="4"/><text x="2101" y="2638.6">(1)小组讨论：如何计算圆环的面积?</text></g>
<g id="o-523b"><rect x="2095" y="2760" width="111" height="27" rx="4"/><text x="2101" y="2778">(2)反馈讨论结果。</text></g>
<g id="o-523b1"><rect x="2231" y="2674" width="256" height="58" rx="4"/><text x="2237" y="2691.6">学生汇报时，边说边演示从一个大圆里去掉一<tspan x="2237" dy="16">个同心小圆变成环形的动态过程：先求出外圆</tspan><tspan x="2237" dy="16">和内圆的面积，再求出环形的面积。</tspan></text></g>
<g id="o-523b2"><rect x="2231" y="2760" width="223" height="27" rx="4"/><text x="2237" y="2778">思考：要计算环形的面积需要什么条件?</text></g>
<g id="o-523b3"><rect x="2231" y="2814" width="256" height="58" rx="4"/><text x="2237" y="2831.6">通过师生交流后，明确要计算环形的面积需要<tspan x="2237" dy="16">知道外圆(大圆)的半径或直径和内圆(小圆)的</tspan><tspan x="2237" dy="16">半径或直径。</tspan></text></g>
<g id="o-524"><rect x="1894" y="3114" width="153" height="27" rx="4"/><text x="1900" y="3132">4、应用新知，解决问题。</text></g>
<g id="o-524a"><rect x="2071" y="2899" width="256" height="58" rx="4"/><text x="2077" y="2916.6">(1)出示例2：光盘的银色部分是个圆环，内圆<tspan x="2077" dy="16">半径是2厘米，外圆半径是6厘米。它的面积</tspan><tspan x="2077" dy="16">是多少?</tspan></text></g>
<g id="o-524b"><rect x="2071" y="2984" width="124" height="27" rx="4"/><text x="2077" y="3002">(2)读题，理解题意。</text></g>
<g id="o-524c"><rect x="2071" y="3038" width="112" height="27" rx="4"/><text x="2077" y="3056">(3)分析数量关系。</text></g>
<g id="o-524d"><rect x="2071" y="3092" width="88" height="27" rx="4"/><text x="2077" y="3110">(4)尝试解答。</text></g>
<g id="o-524e"><rect x="2071" y="3313" width="112" height="27" rx="4"/><text x="2077" y="3331">(5)反馈解答情况。</text></g>
<g id="o-524e1"><rect x="2206" y="3147" width="193" height="26" rx="4"/><text x="2212" y="3164.6">方法1:大圆的面积—小圆的面积。</text></g>
<g id="o-524e2"><rect x="2206" y="3201" width="256" height="42" rx="4"/><text x="2212" y="3218.6">方法2：大圆半径的平方与小圆半径的平方差<tspan x="2212" dy="16">乘以3.14。</tspan></text></g>
<g id="o-524e3"><rect x="2206" y="3270" width="200" height="27" rx="4"/><text x="2212" y="3288">观察比较这两种解法，有什么不同?</text></g>
<g id="o-524e4"><rect x="2206" y="3325" width="256" height="58" rx="4"/><text x="2212" y="3342.6">师生交流，引导学生发现：通过乘法分配律，<tspan x="2212" dy="16">这两种方法可以相互转化，其实它们是一致的</tspan><tspan x="2212" dy="16">。</tspan></text></g>
<g id="o-524e5"><rect x="2206" y="3410" width="256" height="42" rx="4"/><text x="2212" y="3427.6">小结：圆环面积的计算方法，大圆的面积—<tspan x="2212" dy="16">小圆的面积=圆环的面积。</tspan></text></g>
<g id="o-524e6"><rect x="2206" y="3479" width="256" height="27" rx="4"/><text x="2212" y="3497">学生尝试用字母表示求圆环面积的计算公式。</text></g>
<g id="o-53"><rect x="1787" y="3533" width="96" height="28" rx="4"/><text x="1793" y="3551.6">三、巩固练习。</text></g>
</g>

<!-- branch 4 -->
<g class="y">
<g id="y-1"><rect x="1691" y="3588" width="59" height="27" rx="4"/><text x="1697" y="3606">教材说明</text></g>
<g id="y-2"><rect x="1691" y="3641" width="255" height="199" rx="4"/><text x="1697" y="3657">本小节包括百分数的意义和读写两部分内容。<tspan x="1697" dy="16">教材首先从几个不同的角度选取了学生熟悉的</tspan><tspan x="1697" dy="16">几个百分数。接着通过聪聪提问："你还在什</tspan><tspan x="1697" dy="16">么地方见过上面这样的数"让学生交流(课前搜</tspan><tspan x="1697" dy="16">集到的)生活中的百分数。在此基础上直接说</tspan><tspan x="1697" dy="16">明：像上面这样的数，如18%、50%、64.2</tspan><tspan x="1697" dy="16">%......叫做百分数。然后进一步让学生结合实</tspan><tspan x="1697" dy="16">例说说百分数的具体含义，并用定义的方式概</tspan><tspan x="1697" dy="16">括出百分数的意义：百分数表示一个数是另一</tspan><tspan x="1697" dy="16">个数的百分之几。百分数也叫百分率或百分比</tspan><tspan x="1697" dy="16">。使得"百分数"这一概念的内涵更加明确。最</tspan><tspan x="1697" dy="16">后说明百分数的表示法和写法。</tspan></text></g>
<g id="y-3"><rect x="1691" y="3868" width="59" height="27" rx="4"/><text x="1697" y="3886">教学建议</text></g>
<g id="y-4"><rect x="1691" y="3925" width="255" height="261" rx="4"/><text x="1697" y="3940">1. 教学时，可分三个层次进行。第一层次：<tspan x="1697" dy="16">联系生活实际引出百分数。课前,让学生广泛</tspan><tspan x="1697" dy="16">收集、整理生活中的百分数。课中交流收集到</tspan><tspan x="1697" dy="16">的百分数，说说是从哪里收集的。让学生们充</tspan><tspan x="1697" dy="16">分感受到百分数在生产、工作和生活中的广泛</tspan><tspan x="1697" dy="16">应用。或者先通过课件或挂图呈现教材第77</tspan><tspan x="1697" dy="16">页的插图，提出问题"教材收集了哪些数学信</tspan><tspan x="1697" dy="16">息，谁能向大家介绍一下?"随着学生的介绍老</tspan><tspan x="1697" dy="16">师将其中的百分数表示出来，引起学生的注意</tspan><tspan x="1697" dy="16">;接着提出"你还在什么地方见过上面这样的数</tspan><tspan x="1697" dy="16">"引导学生交流课前搜集到的百分数，然后说</tspan><tspan x="1697" dy="16">明：像上面这样的数，如18%、50%、64.2</tspan><tspan x="1697" dy="16">%......叫做百分数。接着进一步提出"人们为什</tspan><tspan x="1697" dy="16">么这么喜欢百分数，用百分数有什么好处?百</tspan><tspan x="1697" dy="16">分数代表什么含义呢?从而揭示课题："百分数</tspan><tspan x="1697" dy="16">的意义与写法"。</tspan></text></g>
<g id="y-4a"><rect x="1970" y="3921" width="255" height="106" rx="4"/><text x="1976" y="3938.6">第二层次：理解百分数的具体含义。让学生结<tspan x="1976" dy="16">合实例说说百分数的具体含义。在这一过程中</tspan><tspan x="1976" dy="16">要鼓励学生用自己的语言大胆表达，让学生在</tspan><tspan x="1976" dy="16">体验大量生活实例的基础上，讨论、概括百分</tspan><tspan x="1976" dy="16">数究竟表示什么?再得出结论：表示一个数是</tspan><tspan x="1976" dy="16">另一个数的百分之几的数，叫做百分数。</tspan></text></g>
<g id="y-4a1"><rect x="2249" y="3929" width="253" height="90" rx="4"/><text x="2255" y="3946.6">然后让学生思考"百分数和我们学过的哪种数<tspan x="2255" dy="16">比较相似?""百分数和分数完全一样吗?""在上</tspan><tspan x="2255" dy="16">面这些事例中，为什么选择使用百分数而不是</tspan><tspan x="2255" dy="16">分数?"通过讨论使学生了解百分数与分数的联</tspan><tspan x="2255" dy="16">系和区别。</tspan></text></g>
<g id="y-4b"><rect x="1970" y="4054" width="255" height="168" rx="4"/><text x="1976" y="4070.6">第三层次：教学百分数的读写。先说明如何写<tspan x="1976" dy="16">百分数：通常不写成分数的形式，而是在原来</tspan><tspan x="1976" dy="16">的分子后面加上百分号"%"。再让学生尝试写</tspan><tspan x="1976" dy="16">百分数并互相评议。评议中注意提醒学生，写</tspan><tspan x="1976" dy="16">百分号时，两个圆圈要写得小一些，以免和数</tspan><tspan x="1976" dy="16">字混淆。接着教学百分数的读法，可以向学生</tspan><tspan x="1976" dy="16">直接说明：百分数的读法与分数的读法大体相</tspan><tspan x="1976" dy="16">同，也是先读分母，后读分子。百分数的读写</tspan><tspan x="1976" dy="16">可以采取自学教材——尝试读写——交流评</tspan><tspan x="1976" dy="16">议的形式进行。</tspan></text></g>
<g id="y-5"><rect x="1691" y="4249" width="255" height="90" rx="4"/><text x="1697" y="4266.6">2."做一做"第3题比较百分数和分数在意义上<tspan x="1697" dy="16">的不同时，应着重使学生明确：分数既可以表</tspan><tspan x="1697" dy="16">示一个数，又可以表示两个数的关系。这里所</tspan><tspan x="1697" dy="16">讲的百分数只表示两个数的关系，所以它的后</tspan><tspan x="1697" dy="16">面不能写单位名称。</tspan></text></g>
<g id="y-6"><rect x="1691" y="4423" width="255" height="44" rx="4"/><text x="1697" y="4441.6">3. 关于练习十八中一些习题的说明和教学建<tspan x="1697" dy="16">议。</tspan></text></g>
<g id="y-6a"><rect x="1970" y="4365" width="255" height="59" rx="4"/><text x="1976" y="4383">第3题是理解百分数意义的题目。要鼓励学生<tspan x="1976" dy="16">大胆设计，发展个性，通过交流使学生了解到</tspan><tspan x="1976" dy="16">：相同的百分数可以用不同的设计表示。</tspan></text></g>
<g id="y-6b"><rect x="1970" y="4450" width="255" height="90" rx="4"/><text x="1976" y="4467.6">第4题练习后，可以让课堂上还没有机会交流<tspan x="1976" dy="16">自己收集到的百分数信息的学生继续介绍，其</tspan><tspan x="1976" dy="16">余学生写出(或读出)相关百分数，进一步加深</tspan><tspan x="1976" dy="16">学生对百分数意义的理解，密切百分数与生活</tspan><tspan x="1976" dy="16">的联系。</tspan></text></g>
</g>

<!-- related -->
<g class="g">
<g id="g-1"><rect x="1701" y="4567" width="248" height="28" rx="4"/><text x="1707" y="4585.6">★ 2021最新人教版六年级上册数学教案文案</text></g>
<g id="g-2"><rect x="1701" y="4621" width="236" height="28" rx="4"/><text x="1707" y="4639.6">★ 2021小学数学六年级数学上册教案文案</text></g>
<g id="g-3"><rect x="1701" y="4675" width="200" height="28" rx="4"/><text x="1707" y="4693.6">★ 六年级数学下教案设计2021文案</text></g>
<g id="g-4"><rect x="1701" y="4729" width="200" height="28" rx="4"/><text x="1707" y="4747.6">★ 六年级数学总复习教案2021文案</text></g>
<g id="g-5"><rect x="1701" y="4783" width="220" height="28" rx="4"/><text x="1707" y="4801.6">★ 北师版六年级数学上册教案最新文案</text></g>
<g id="g-6"><rect x="1701" y="4837" width="207" height="28" rx="4"/><text x="1707" y="4855.6">★ 六年级苏教版数学教案下最新文案</text></g>
<g id="g-7"><rect x="1701" y="4891" width="207" height="28" rx="4"/><text x="1707" y="4909.6">★ 六年级数学下册复习教案最新文案</text></g>
<g id="g-8"><rect x="1701" y="4945" width="248" height="28" rx="4"/><text x="1707" y="4963.6">★ 北京版小学数学六年级上册教案2021文案</text></g>
<g id="g-9"><rect x="1701" y="4999" width="248" height="28" rx="4"/><text x="1707" y="5017.6">★ 2021六年级数学下册欣赏与设计教案文案</text></g>
<g id="g-10"><rect x="1701" y="5053" width="207" height="28" rx="4"/><text x="1707" y="5071.6">★ 六年级数学圆柱体积教案最新文案</text></g>
</g>
</g>
</svg>
